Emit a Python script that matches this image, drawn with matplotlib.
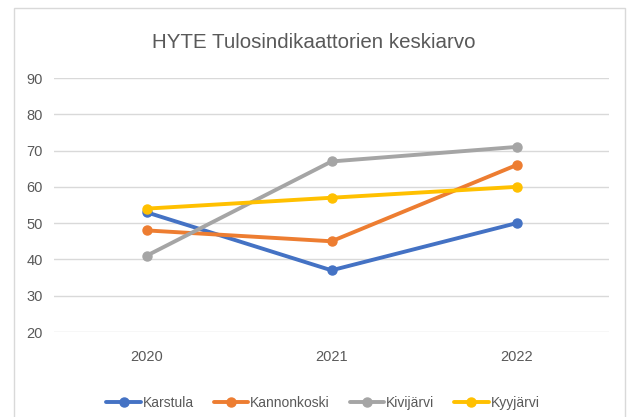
import matplotlib.pyplot as plt
from matplotlib.patches import Rectangle

years = ['2020', '2021', '2022']
karstula = [53, 37, 50]
kannonkoski = [48, 45, 66]
kivijarvi = [41, 67, 71]
kyyjarvi = [54, 57, 60]

series = [
    ('Karstula', karstula, '#4472C4'),
    ('Kannonkoski', kannonkoski, '#ED7D31'),
    ('Kivijärvi', kivijarvi, '#A5A5A5'),
    ('Kyyjärvi', kyyjarvi, '#FFC000'),
]

plt.rcParams['font.family'] = ['Liberation Sans', 'DejaVu Sans']
text_col = '#595959'

W, H = 630, 417
fig = plt.figure(figsize=(W / 100, H / 100), dpi=100)

# chart frame (bottom edge falls outside the picture)
fig.patches.append(Rectangle((13.5 / W, -0.05), (625 - 13.5) / W, 1.05 - 7.5 / H,
                             transform=fig.transFigure, fill=False,
                             edgecolor='#d9d9d9', linewidth=1.0))

ax = fig.add_axes([54 / W, 1 - 332 / H, (609 - 54) / W, (332 - 78) / H])

x = list(range(len(years)))
for name, vals, col in series:
    ax.plot(x, vals, color=col, linewidth=2.8, marker='o', markersize=6.5,
            label=name, solid_capstyle='round')

ax.set_xlim(-0.5, 2.5)
ax.set_ylim(20, 90)
ax.set_yticks(range(20, 91, 10))
ax.set_xticks(x)
ax.set_xticklabels(years)
ax.grid(axis='y', color='#d9d9d9', linewidth=1.0)
ax.set_axisbelow(True)
for s in ax.spines.values():
    s.set_visible(False)
ax.tick_params(axis='both', length=0, colors=text_col, labelsize=10.5)
ax.tick_params(axis='y', pad=8)
ax.tick_params(axis='x', pad=13)

fig.text(314 / W, 1 - 42 / H, 'HYTE Tulosindikaattorien keskiarvo',
         ha='center', va='center', fontsize=14.8, color=text_col)

fig.legend(loc='center', bbox_to_anchor=(323 / W, 1 - 403 / H), ncol=4,
           frameon=False, fontsize=10, handlelength=2.5, handletextpad=0.15,
           columnspacing=1.4, labelcolor=text_col)

fig.savefig('out.png', dpi=100)
